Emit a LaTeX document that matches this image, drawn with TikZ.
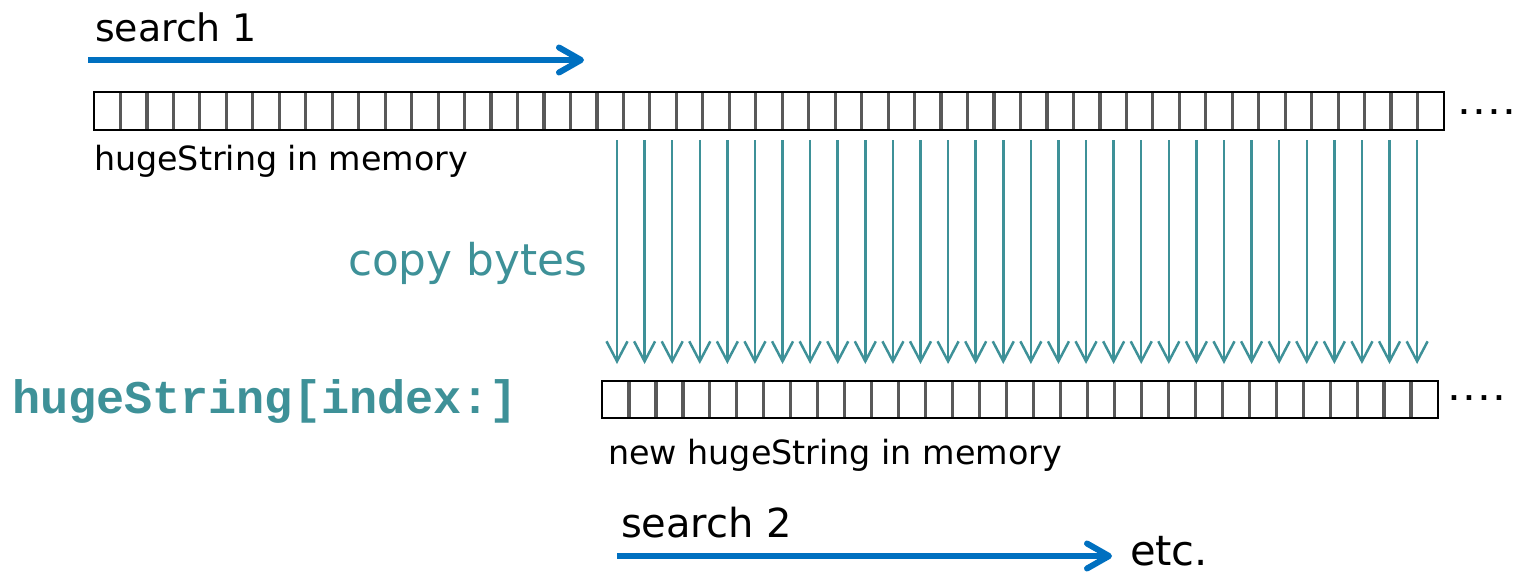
\documentclass[tikz,border=0pt]{standalone}
\usepackage{fontspec}
\setmainfont{DejaVu Sans}
\setmonofont{Liberation Mono}
\usetikzlibrary{arrows.meta}
\definecolor{tealc}{HTML}{3E9198}
\definecolor{bluec}{HTML}{0070C0}
\newlength\upx
\setlength\upx{0.5pt}
\begin{document}
\begin{tikzpicture}[x=0.5pt,y=-0.5pt,
  lbl/.style={inner sep=0,outer sep=0,anchor=base west},
  searcharrow/.style={draw=bluec,line width=3pt,-{Straight Barb[length=11pt,width=12.5pt,line width=3pt,round]}},
  copyarrow/.style={draw=tealc,line width=1.25pt,-{Straight Barb[length=10pt,width=10.5pt,line width=1.25pt]}},
  cellline/.style={draw=black!65,line width=1.6pt},
  memarray/.style={draw=black,line width=1.3pt,inner sep=0,outer sep=0,anchor=north west},
  dots/.style={lbl,font=\fontsize{13}{13}\selectfont\bfseries}]
\useasboundingbox (0,0) rectangle (1513,573);

% search 1
\node[lbl] (s1) at (95,41) {\resizebox{162\upx}{!}{search 1}};
\coordinate (s1a) at (88,60);
\coordinate (s1b) at (584,60);
\draw[searcharrow] (s1a) -- (s1b);

% top memory array (51 cells)
\foreach \i in {1,...,50} {
  \draw[cellline] ({94+\i*26.4706},92) -- ({94+\i*26.4706},130);
}
\node[memarray,minimum width=1350\upx,minimum height=38\upx] (mem1) at (94,92) {};
\node[dots] (d1) at (1459,114) {.\kern0.2em.\kern0.2em.\kern0.2em.};
\node[lbl] (hs) at (94,170) {\resizebox{374\upx}{!}{hugeString in memory}};

% copy bytes
\node[lbl,text=tealc] (cb) at (348,275) {\resizebox{239\upx}{!}{copy bytes}};
\foreach \k in {0,...,29} {
  \coordinate (t\k) at ({617+27.59*\k},140);
  \coordinate (b\k) at ({617+27.59*\k},364);
  \draw[copyarrow] (t\k) -- (b\k);
}

% slice expression
\node[lbl,text=tealc] (hi) at (12,413) {\resizebox{506\upx}{!}{\ttfamily\bfseries hugeString[index:]}};

% bottom memory array (31 cells)
\foreach \i in {1,...,30} {
  \draw[cellline] ({602+\i*26.9677},381) -- ({602+\i*26.9677},418);
}
\node[memarray,minimum width=836\upx,minimum height=37\upx] (mem2) at (602,381) {};
\node[dots] (d2) at (1449,400) {.\kern0.2em.\kern0.2em.\kern0.2em.};
\node[lbl] (nhs) at (608,464) {\resizebox{454\upx}{!}{new hugeString in memory}};

% search 2
\node[lbl] (s2) at (621,537) {\resizebox{171\upx}{!}{search 2}};
\coordinate (s2a) at (617,556);
\coordinate (s2b) at (1112,556);
\draw[searcharrow] (s2a) -- (s2b);
\node[lbl] (etc) at (1130,565) {\resizebox{78\upx}{!}{etc.}};
\end{tikzpicture}
\end{document}
